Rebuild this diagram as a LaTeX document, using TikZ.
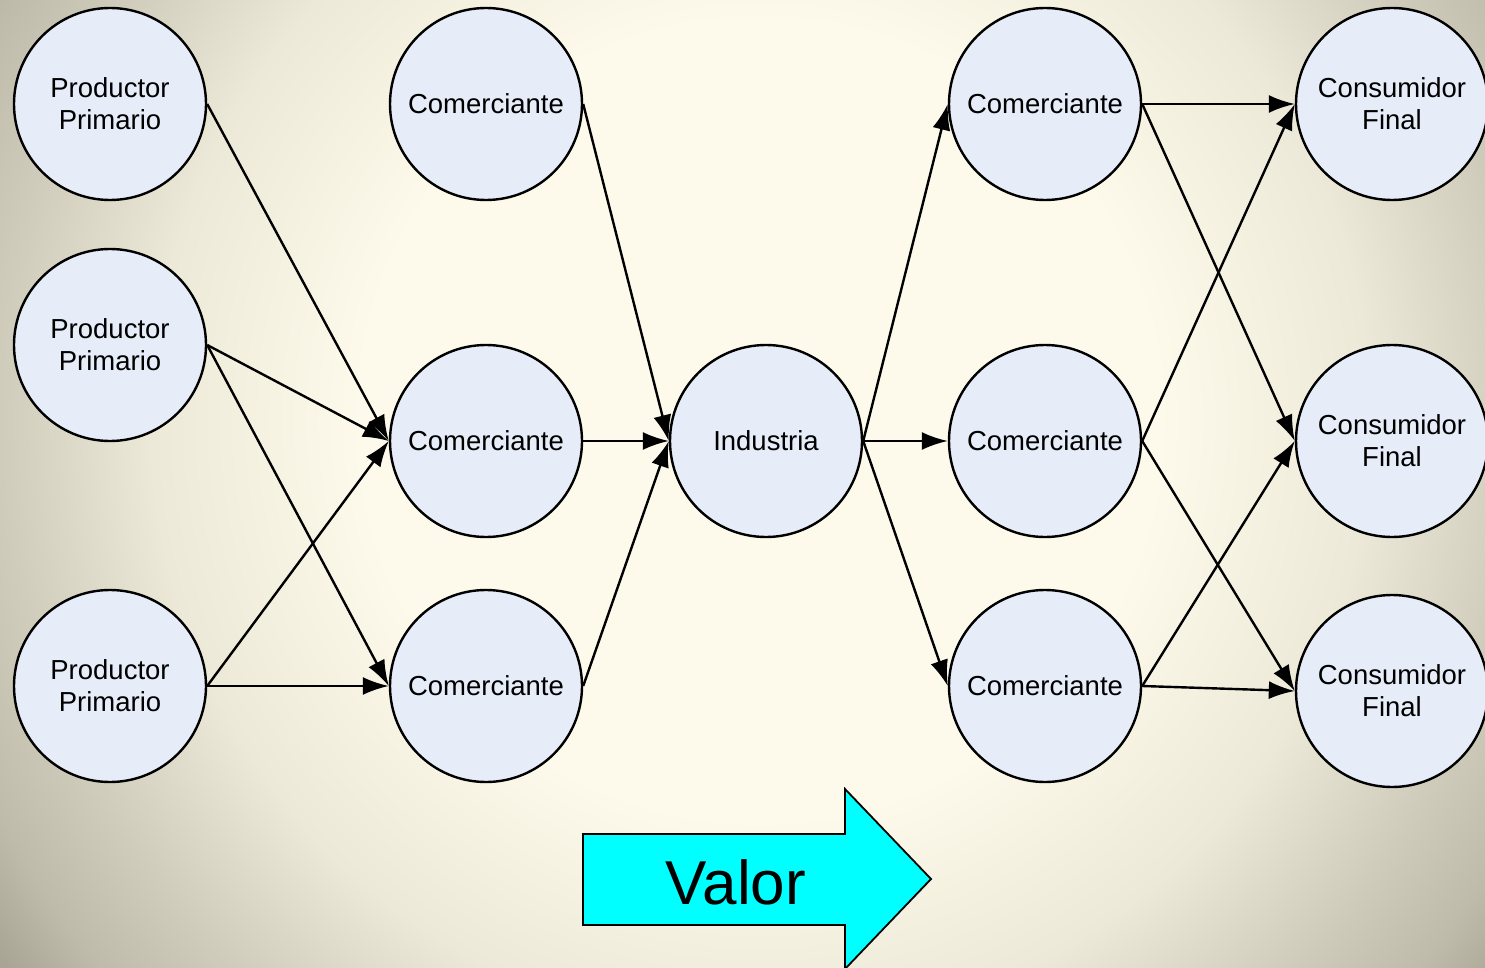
\documentclass[tikz,border=0pt]{standalone}
\usepackage{fontspec}
\setmainfont{Liberation Sans}
\usetikzlibrary{arrows.meta}
\definecolor{bgcream}{RGB}{253,250,235}
\definecolor{bgsoft}{RGB}{236,233,216}
\definecolor{bgmid}{RGB}{207,204,187}
\definecolor{bgedge}{RGB}{190,187,170}
\definecolor{bgcorner}{RGB}{168,165,148}
\definecolor{nodefill}{RGB}{230,237,248}
\definecolor{valorcyan}{RGB}{0,255,255}
% round glow; the shaded circle's rim sits at 25bp
\pgfdeclareradialshading{backglow}{\pgfpoint{0bp}{0bp}}{%
  color(0bp)=(bgcream); color(10.5bp)=(bgcream); color(16bp)=(bgsoft);
  color(20bp)=(bgmid); color(22.6bp)=(bgedge); color(24.5bp)=(bgcorner);
  color(50bp)=(bgcorner)}
\tikzset{
  actor/.style={circle, draw=black, line width=2.4pt, fill=nodefill,
    minimum size=192pt, inner sep=0pt, align=center,
    font=\fontsize{27.5}{32}\selectfont},
  flow/.style={line width=2.4pt, -{Latex[length=26pt,width=18pt]}},
}
\begin{document}
\begin{tikzpicture}[x=1pt,y=-1pt]
  % background
  \begin{scope}
    \clip (0,0) rectangle (1485,968);
    \shade[shading=backglow] (760,420) circle[radius=950pt];
  \end{scope}
  \useasboundingbox (0,0) rectangle (1485,968);

  % producers
  \node[actor] (p1) at (110,104) {Productor\\Primario};
  \node[actor] (p2) at (110,345) {Productor\\Primario};
  \node[actor] (p3) at (110,686) {Productor\\Primario};
  % first traders
  \node[actor] (c1) at (486,104) {Comerciante};
  \node[actor] (c2) at (486,441) {Comerciante};
  \node[actor] (c3) at (486,686) {Comerciante};
  % industry
  \node[actor] (ind) at (766,441) {Industria};
  % second traders
  \node[actor] (r1) at (1045,104) {Comerciante};
  \node[actor] (r2) at (1045,441) {Comerciante};
  \node[actor] (r3) at (1045,686) {Comerciante};
  % consumers
  \node[actor] (f1) at (1392,104) {Consumidor\\Final};
  \node[actor] (f2) at (1392,441) {Consumidor\\Final};
  \node[actor] (f3) at (1392,691) {Consumidor\\Final};

  % connectors
  \draw[flow] (p1.east) -- (c2.west);
  \draw[flow] (p2.east) -- (c2.west);
  \draw[flow] (p2.east) -- (c3.west);
  \draw[flow] (p3.east) -- (c2.west);
  \draw[flow] (p3.east) -- (c3.west);
  \draw[flow] (c1.east) -- (ind.west);
  \draw[flow] (c2.east) -- (ind.west);
  \draw[flow] (c3.east) -- (ind.west);
  \draw[flow] (ind.east) -- (r1.west);
  \draw[flow] (ind.east) -- (r2.west);
  \draw[flow] (ind.east) -- (r3.west);
  \draw[flow] (r1.east) -- (f1.west);
  \draw[flow] (r1.east) -- (f2.west);
  \draw[flow] (r2.east) -- (f1.west);
  \draw[flow] (r2.east) -- (f3.west);
  \draw[flow] (r3.east) -- (f2.west);
  \draw[flow] (r3.east) -- (f3.west);

  % value arrow
  \draw[fill=valorcyan, line width=1.8pt, line join=miter]
    (583,834) -- (845,834) -- (845,789) -- (931,879) -- (845,969)
    -- (845,925) -- (583,925) -- cycle;
  \node[font=\fontsize{62}{70}\selectfont] (valor) at (736,882) {Valor};
\end{tikzpicture}
\end{document}
